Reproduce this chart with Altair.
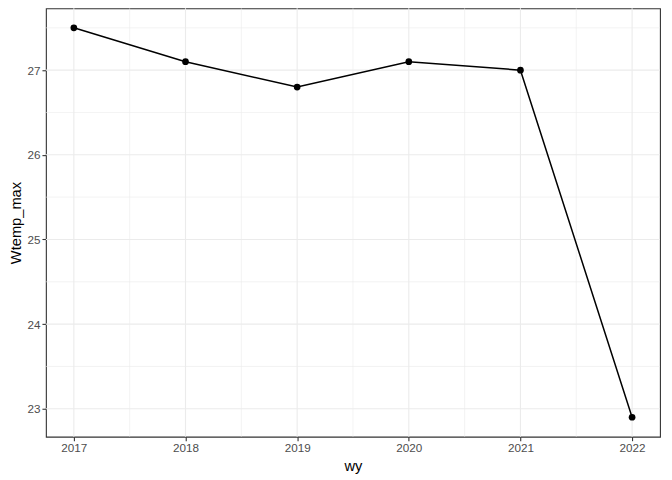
import altair as alt
import pandas as pd

years = [2017, 2018, 2019, 2020, 2021, 2022]
wtemp_max = [27.5, 27.1, 26.8, 27.1, 27.0, 22.9]

x_major = [2017, 2018, 2019, 2020, 2021, 2022]
x_minor = [2017.5, 2018.5, 2019.5, 2020.5, 2021.5]
y_major = [23, 24, 25, 26, 27]
y_minor = [23.5, 24.5, 25.5, 26.5, 27.5]

df = pd.DataFrame({"wy": years, "Wtemp_max": wtemp_max})
xmin = pd.DataFrame({"wy": x_minor})
ymin = pd.DataFrame({"Wtemp_max": y_minor})
xmaj = pd.DataFrame({"wy": x_major})
ymaj = pd.DataFrame({"Wtemp_max": y_major})

FONT = "Liberation Sans"
xscale = alt.Scale(domain=[2016.75, 2022.25], nice=False, zero=False)
yscale = alt.Scale(domain=[22.67, 27.73], nice=False, zero=False)

xaxis = alt.Axis(values=x_major, format="d", grid=False, domain=False,
                 tickColor="#333333", tickSize=4, tickWidth=1.1,
                 labelColor="#4D4D4D", labelFont=FONT, labelFontSize=11.7,
                 labelPadding=2, titleFont=FONT, titleFontSize=14.7,
                 titleFontWeight="normal", titleColor="black", titlePadding=4)
yaxis = alt.Axis(values=y_major, format="d", grid=False, domain=False,
                 tickColor="#333333", tickSize=4, tickWidth=1.1,
                 labelColor="#4D4D4D", labelFont=FONT, labelFontSize=11.7,
                 labelPadding=2, titleFont=FONT, titleFontSize=14.7,
                 titleFontWeight="normal", titleColor="black", titlePadding=3)

X = alt.X("wy:Q", scale=xscale, axis=xaxis, title="wy")
Y = alt.Y("Wtemp_max:Q", scale=yscale, axis=yaxis, title="Wtemp_max")

grid_minor_x = alt.Chart(xmin).mark_rule(color="#EBEBEB", strokeWidth=0.6).encode(x=X)
grid_minor_y = alt.Chart(ymin).mark_rule(color="#EBEBEB", strokeWidth=0.6).encode(y=Y)
grid_major_x = alt.Chart(xmaj).mark_rule(color="#EBEBEB", strokeWidth=1.1).encode(x=X)
grid_major_y = alt.Chart(ymaj).mark_rule(color="#EBEBEB", strokeWidth=1.1).encode(y=Y)

base = alt.Chart(df).encode(x=X, y=Y)
line = base.mark_line(color="black", strokeWidth=1.5)
pts = base.mark_point(filled=True, color="black", size=45, opacity=1)

chart = alt.layer(grid_minor_x, grid_minor_y, grid_major_x, grid_major_y, line, pts).properties(
    width=615, height=429,
    autosize=alt.AutoSizeParams(type="none"),
    padding={"left": 38, "top": 0, "right": 4, "bottom": 40},
).configure_view(stroke="#333333", strokeWidth=1.1)

chart.save("out.html", embed_options={"renderer": "svg", "actions": False})
